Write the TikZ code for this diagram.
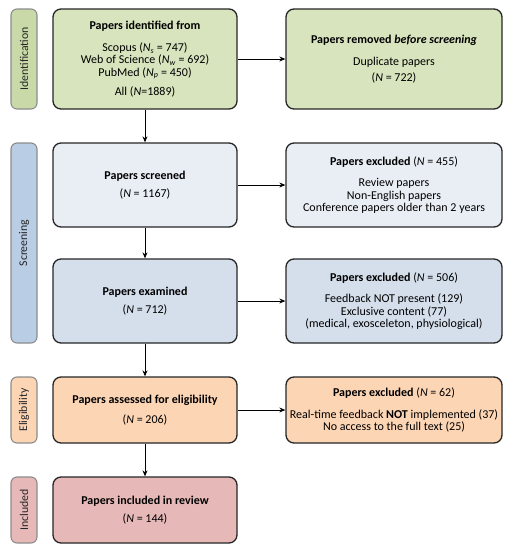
\documentclass[tikz,border=0pt]{standalone}
\usepackage{fontspec}
\setmainfont{Carlito}
\usetikzlibrary{arrows.meta}
\definecolor{gI}{HTML}{D7E4BD}
\definecolor{gL}{HTML}{C9DAA8}
\definecolor{bA}{HTML}{E9EEF5}
\definecolor{bB}{HTML}{D5DFEB}
\definecolor{bL}{HTML}{B9CDE5}
\definecolor{oA}{HTML}{FCD5B5}
\definecolor{rA}{HTML}{E6B9B8}
\definecolor{edge}{HTML}{262626}
\tikzset{
  box/.style={draw=edge, line width=1.3pt, rounded corners=8pt, align=center,
    inner sep=0pt, font=\fontsize{12}{12.3}\selectfont},
  phase/.style={draw=gray!90, line width=1.1pt, rounded corners=6pt, inner sep=0pt,
    minimum width=26pt, text=black!85, font=\fontsize{11.8}{13}\selectfont},
  conn/.style={draw=black, line width=1pt, -{Stealth[length=6pt,width=5pt]}}
}
\begin{document}
\begin{tikzpicture}[x=1pt,y=-1pt]
\useasboundingbox (0,0) rectangle (512,550);
% phase labels
\node[phase, fill=gL, minimum height=100pt] (pI) at (24,59) {\rotatebox{90}{Identification}};
\node[phase, fill=bL, minimum height=200pt] (pS) at (24,243) {\rotatebox{90}{Screening}};
\node[phase, fill=oA, minimum height=66pt] (pE) at (24,410) {\rotatebox{90}{Eligibility}};
\node[phase, fill=rA, minimum height=66pt] (pN) at (24,510) {\rotatebox{90}{Included}};
% main column
\node[box, fill=gI, minimum width=184pt, minimum height=100pt] (b1) at (145,59)
  {\textbf{Papers identified from}\\[10pt]
   Scopus (\textit{N}\textsubscript{\textit{s}} = 747)\\
   Web of Science (\textit{N}\textsubscript{\textit{w}} = 692)\\
   PubMed (\textit{N}\textsubscript{\textit{p}} = 450)\\[7pt]
   All (\textit{N}=1889)};
\node[box, fill=bA, minimum width=184pt, minimum height=84pt] (b3) at (145,185)
  {\textbf{Papers screened}\\[6pt](\textit{N} = 1167)};
\node[box, fill=bB, minimum width=184pt, minimum height=84pt] (b4) at (145,301)
  {\textbf{Papers examined}\\[6pt](\textit{N} = 712)};
\node[box, fill=oA, minimum width=184pt, minimum height=66pt] (b7) at (145,410)
  {\textbf{Papers assessed for eligibility}\\[8pt](\textit{N} = 206)};
\node[box, fill=rA, minimum width=184pt, minimum height=66pt] (b9) at (145,510)
  {\textbf{Papers included in review}\\[6pt](\textit{N} = 144)};
% right column
\node[box, fill=gI, minimum width=216pt, minimum height=100pt] (b2) at (394,59)
  {\textbf{Papers removed \textit{before screening}}\\[10pt]
   Duplicate papers\\[4pt](\textit{N} = 722)};
\node[box, fill=bA, minimum width=216pt, minimum height=84pt] (b5) at (394,185)
  {\textbf{Papers excluded} (\textit{N} = 455)\\[9pt]
   Review papers\\Non-English papers\\Conference papers older than 2 years};
\node[box, fill=bB, minimum width=216pt, minimum height=84pt] (b6) at (394,301)
  {\textbf{Papers excluded} (\textit{N} = 506)\\[9pt]
   Feedback NOT present (129)\\Exclusive content (77)\\(medical, exosceleton, physiological)};
\node[box, fill=oA, minimum width=216pt, minimum height=66pt] (b8) at (394,410)
  {\textbf{Papers excluded} (\textit{N} = 62)\\[10pt]
   Real-time feedback \textbf{NOT} implemented (37)\\No access to the full text (25)};
% connectors
\draw[conn] (b1) -- (b3);
\draw[conn] (b3) -- (b4);
\draw[conn] (b4) -- (b7);
\draw[conn] (b7) -- (b9);
\draw[conn] (b1) -- (b2);
\draw[conn] (b3) -- (b5);
\draw[conn] (b4) -- (b6);
\draw[conn] (b7) -- (b8);
\end{tikzpicture}
\end{document}
